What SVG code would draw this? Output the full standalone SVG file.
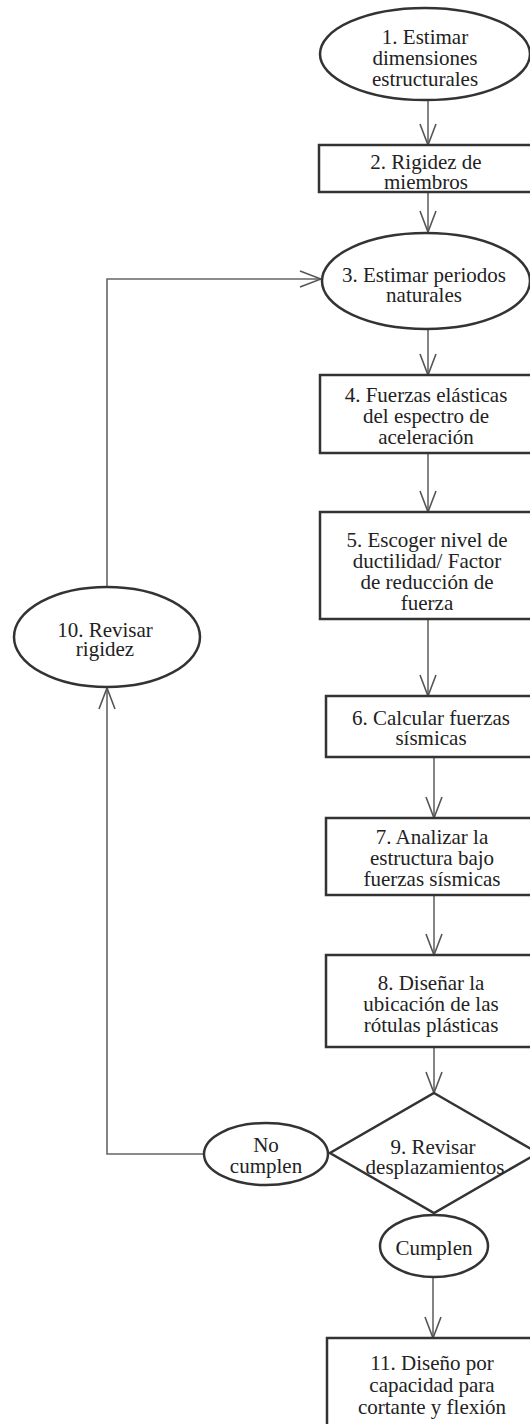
<svg xmlns="http://www.w3.org/2000/svg" width="530" height="1424" viewBox="0 0 530 1424">
<defs>
<style>
.shape{fill:#fff;stroke:#333;stroke-width:2.5}
.conn{fill:none;stroke:#666;stroke-width:1.6}
text{font-family:"Liberation Serif","Times New Roman",serif;font-size:21px;fill:#222;text-anchor:middle}
</style>
<marker id="arr" markerUnits="userSpaceOnUse" markerWidth="24" markerHeight="20" viewBox="-22 -10 24 20" refX="0" refY="0" orient="auto">
<path d="M-21,-8 L0,0 L-21,8" fill="none" stroke="#555" stroke-width="1.6"/>
</marker>
</defs>
<rect width="530" height="1424" fill="#fff"/>
<g id="connectors">
<line class="conn" x1="428" y1="100" x2="428" y2="145" marker-end="url(#arr)"/>
<line class="conn" x1="428" y1="192" x2="428" y2="232" marker-end="url(#arr)"/>
<line class="conn" x1="428" y1="328" x2="428" y2="375" marker-end="url(#arr)"/>
<line class="conn" x1="428" y1="453" x2="428" y2="512" marker-end="url(#arr)"/>
<line class="conn" x1="428" y1="619" x2="428" y2="696" marker-end="url(#arr)"/>
<line class="conn" x1="434" y1="757" x2="434" y2="818" marker-end="url(#arr)"/>
<line class="conn" x1="434" y1="895" x2="434" y2="955" marker-end="url(#arr)"/>
<line class="conn" x1="434" y1="1047" x2="434" y2="1093" marker-end="url(#arr)"/>
<line class="conn" x1="433" y1="1277" x2="433" y2="1338" marker-end="url(#arr)"/>
<polyline class="conn" points="204,1154 107,1154 107,688" marker-end="url(#arr)"/>
<polyline class="conn" points="107,587 107,279 321,279" marker-end="url(#arr)"/>
</g>
<g id="n1">
<ellipse class="shape" cx="425" cy="54" rx="105" ry="46"/>
<text x="425" y="44">1. Estimar</text>
<text x="425" y="65">dimensiones</text>
<text x="425" y="86">estructurales</text>
</g>
<g id="n2">
<rect class="shape" x="319" y="145" width="222" height="47"/>
<text x="426" y="169">2. Rigidez de</text>
<text x="426" y="189">miembros</text>
</g>
<g id="n3">
<ellipse class="shape" cx="426" cy="281" rx="104" ry="48"/>
<text x="424" y="282">3. Estimar periodos</text>
<text x="424" y="302">naturales</text>
</g>
<g id="n4">
<rect class="shape" x="320" y="375" width="220" height="78"/>
<text x="426" y="402">4. Fuerzas elásticas</text>
<text x="426" y="423">del espectro de</text>
<text x="426" y="444">aceleración</text>
</g>
<g id="n5">
<rect class="shape" x="320" y="512" width="220" height="107"/>
<text x="427" y="547">5. Escoger nivel de</text>
<text x="427" y="568">ductilidad/ Factor</text>
<text x="427" y="589">de reducción de</text>
<text x="427" y="610">fuerza</text>
</g>
<g id="n6">
<rect class="shape" x="326" y="696" width="220" height="61"/>
<text x="431" y="725">6. Calcular fuerzas</text>
<text x="431" y="745">sísmicas</text>
</g>
<g id="n7">
<rect class="shape" x="326" y="818" width="220" height="77"/>
<text x="432" y="844">7. Analizar la</text>
<text x="432" y="865">estructura bajo</text>
<text x="432" y="886">fuerzas sísmicas</text>
</g>
<g id="n8">
<rect class="shape" x="326" y="955" width="220" height="92"/>
<text x="431" y="990">8. Diseñar la</text>
<text x="431" y="1011">ubicación de las</text>
<text x="431" y="1032">rótulas plásticas</text>
</g>
<g id="n9">
<polygon class="shape" points="434,1093 538,1153 434,1213 330,1153"/>
<text x="433" y="1154">9. Revisar</text>
<text x="435" y="1174">desplazamientos</text>
</g>
<g id="n_nocumplen">
<ellipse class="shape" cx="266" cy="1154" rx="62" ry="31"/>
<text x="266" y="1152">No</text>
<text x="266" y="1173">cumplen</text>
</g>
<g id="n_cumplen">
<ellipse class="shape" cx="434" cy="1246" rx="54" ry="31"/>
<text x="434" y="1255">Cumplen</text>
</g>
<g id="n10">
<ellipse class="shape" cx="107" cy="637" rx="93" ry="50"/>
<text x="105" y="637">10. Revisar</text>
<text x="105" y="656">rigidez</text>
</g>
<g id="n11">
<rect class="shape" x="327" y="1338" width="220" height="110"/>
<text x="432" y="1370">11. Diseño por</text>
<text x="432" y="1392">capacidad para</text>
<text x="432" y="1414">cortante y flexión</text>
</g>
</svg>
